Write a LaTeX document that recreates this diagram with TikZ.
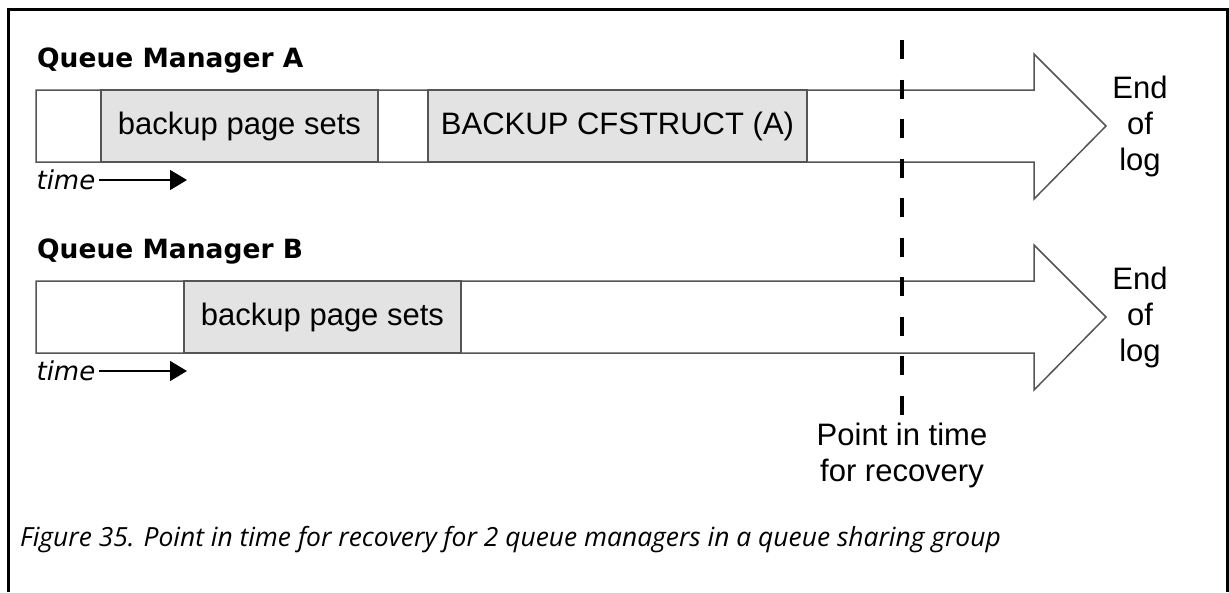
\documentclass[tikz,border=0pt]{standalone}
\usepackage{fontspec}
\setmainfont{Liberation Sans}
\newfontfamily\qmfont{DejaVu Sans}
\newfontfamily\capfont{Open Sans}
\usepackage{xcolor}
\usetikzlibrary{arrows.meta}
\definecolor{logline}{HTML}{555555}
\definecolor{setgray}{HTML}{E3E3E3}

\begin{document}
\begin{tikzpicture}[x=1pt,y=-1pt,>={Triangle[length=17pt,width=20pt]},
                    logbar/.style={draw=logline, line width=1.5pt},
                    setbox/.style={draw=logline, line width=1.5pt, fill=setgray,
                                   inner sep=0pt, minimum height=72pt,
                                   font=\fontsize{31}{36}\selectfont},
                    plain/.style={inner sep=0pt, font=\fontsize{31}{36}\selectfont},
                    qmtitle/.style={inner sep=0pt, font=\qmfont\bfseries\fontsize{26.5}{30}\selectfont},
                    timelbl/.style={inner sep=3.5pt, font=\qmfont\itshape\fontsize{26}{30}\selectfont}]

  \useasboundingbox (0,0) rectangle (1229,592);
  \draw[line width=2.5pt] (8.5,592) -- (8.5,9.5) -- (1227.5,9.5) -- (1227.5,592);

  \foreach \yc/\q in {126/A,317/B}{
    \draw[logbar] (36,\yc-36) -- (1034,\yc-36) -- (1034,\yc-72) -- (1106,\yc)
          -- (1034,\yc+73) -- (1034,\yc+36) -- (36,\yc+36) -- cycle;
    \node[qmtitle,anchor=base west] (title\q) at (37,\yc-59) {Queue Manager \q};
    \node[timelbl,anchor=east] (time\q) at (99,\yc+54) {time};
    \coordinate (arr\q) at (187,\yc+54);
    \draw[->,line width=1.5pt] (time\q) -- (arr\q);
    \node[plain,align=center] (end\q) at (1140,\yc) {End\\of\\log};
  }

  \node[setbox,minimum width=277pt] (setsA) at (239.5,126) {backup page sets};
  \node[setbox,minimum width=379pt] (cfA) at (617.5,126) {BACKUP CFSTRUCT (A)};
  \node[setbox,minimum width=277pt] (setsB) at (322.5,317) {backup page sets};

  \coordinate (pitTop) at (902,40);
  \node[plain,align=center] (pit) at (902,455) {Point in time\\for recovery};
  \draw[line width=4pt,dash pattern=on 19pt off 20.5pt] (pitTop) -- (pit.north);

  \node[inner sep=0pt,anchor=base west,font=\capfont\itshape\fontsize{26.4}{30}\selectfont]
        (caption) at (20,546)
        {Figure 35. Point in time for recovery for 2 queue managers in a queue sharing group};
\end{tikzpicture}
\end{document}
